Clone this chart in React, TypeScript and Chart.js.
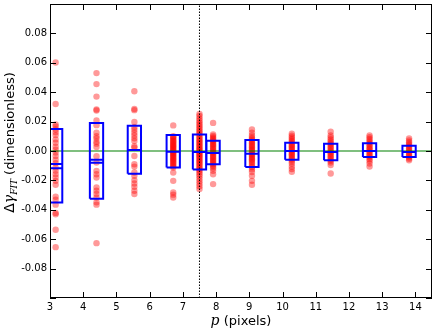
import React, { useEffect, useRef } from 'react';
import { Chart, registerables } from 'chart.js';
Chart.register(...registerables);

// ---- data ----
const groupX = [3.17, 4.4, 5.54, 6.71, 7.5, 7.91, 9.08, 10.28, 11.45, 12.62, 13.81];

const g1 = [0.0602, 0.032, 0.018, 0.0167, 0.0146, 0.0128, 0.0108, 0.0079, 0.0056, 0.0029, 0.0009, -0.0011, -0.0034, -0.0059, -0.0083, -0.0113, -0.0135, -0.0158, -0.018, -0.0203, -0.023, -0.0311, -0.0331, -0.0365, -0.0421, -0.043, -0.0536, -0.0654];
const g2 = [0.053, 0.0455, 0.037, 0.0282, 0.0276, 0.0207, 0.0176, 0.0124, 0.0101, 0.0086, 0.0063, 0.005, 0.0027, -0.0036, -0.0079, -0.0135, -0.0158, -0.018, -0.0248, -0.027, -0.0293, -0.0316, -0.0349, -0.0365, -0.0627];
const g3 = [0.0406, 0.0286, 0.0278, 0.0198, 0.0162, 0.0144, 0.0124, 0.0106, 0.0086, 0.0068, 0.0032, 0.0023, -0.0034, -0.009, -0.0106, -0.0146, -0.0169, -0.0198, -0.0221, -0.0243, -0.027, -0.0293];
const g4 = [0.0174, 0.0101, 0.0095, 0.0088, 0.008, 0.0072, 0.0065, 0.0058, 0.005, 0.0043, 0.0036, 0.003, 0.0022, 0.0015, 0.0008, 0.0002, -0.0005, -0.0012, -0.0019, -0.0026, -0.0033, -0.004, -0.0048, -0.0055, -0.0062, -0.007, -0.0078, -0.0086, -0.0095, -0.0104, -0.0112, -0.0147, -0.0203, -0.0282, -0.0297, -0.0316];
const g5 = [0.0252, 0.0238, 0.0222, 0.0208, 0.0195, 0.0182, 0.017, 0.0158, 0.0146, 0.0135, 0.0124, 0.0113, 0.0102, 0.0092, 0.0082, 0.0072, 0.0063, 0.0054, 0.0045, 0.0036, 0.0027, 0.0018, 0.001, 0.0002, -0.0006, -0.0014, -0.0022, -0.003, -0.0038, -0.0046, -0.0055, -0.0064, -0.0073, -0.0082, -0.0092, -0.0102, -0.0112, -0.0122, -0.0133, -0.0145, -0.0158, -0.0172, -0.0188, -0.0205, -0.0222, -0.024, -0.0259];
const g6 = [0.0191, 0.0113, 0.0103, 0.0093, 0.0084, 0.0075, 0.0066, 0.0057, 0.0048, 0.004, 0.0031, 0.0022, 0.0013, 0.0004, -0.0005, -0.0014, -0.0023, -0.0032, -0.0041, -0.005, -0.0059, -0.0068, -0.0077, -0.0086, -0.0096, -0.0106, -0.0118, -0.0135, -0.0158, -0.0225];
const g7 = [0.0147, 0.0124, 0.0105, 0.0092, 0.0082, 0.0072, 0.0062, 0.0052, 0.0043, 0.0034, 0.0025, 0.0016, 0.0007, -0.0002, -0.0011, -0.002, -0.0029, -0.0038, -0.0047, -0.0056, -0.0065, -0.0075, -0.0086, -0.0098, -0.011, -0.0125, -0.0143, -0.0169, -0.0203, -0.023];
const g8 = [0.0117, 0.0104, 0.0092, 0.0081, 0.007, 0.006, 0.005, 0.0041, 0.0032, 0.0023, 0.0014, 0.0005, -0.0004, -0.0013, -0.0022, -0.0031, -0.004, -0.005, -0.006, -0.0072, -0.0085, -0.0105, -0.0123, -0.0142];
const g9 = [0.0131, 0.0106, 0.0092, 0.0078, 0.0066, 0.0055, 0.0044, 0.0034, 0.0024, 0.0014, 0.0004, -0.0006, -0.0016, -0.0026, -0.0036, -0.0046, -0.0056, -0.0067, -0.0079, -0.0095, -0.0153];
const g10 = [0.0106, 0.0094, 0.0082, 0.007, 0.0059, 0.0048, 0.0038, 0.0028, 0.0018, 0.0008, -0.0002, -0.0012, -0.0022, -0.0032, -0.0043, -0.0055, -0.0068, -0.0085, -0.0106];
const g11 = [0.0086, 0.0072, 0.006, 0.0048, 0.0037, 0.0027, 0.0017, 0.0007, -0.0003, -0.0013, -0.0023, -0.0033, -0.0043, -0.0053, -0.0063];
const groupValues = [g1, g2, g3, g4, g5, g6, g7, g8, g9, g10, g11];

const boxUpper = [0.0149, 0.0191, 0.0171, 0.0108, 0.0113, 0.007, 0.0074, 0.0056, 0.0049, 0.0052, 0.0036];
const boxLower = [-0.035, -0.0325, -0.0155, -0.0113, -0.0126, -0.009, -0.0108, -0.0059, -0.0063, -0.004, -0.004];
const boxMedian = [-0.0117, -0.008, 0.0007, -0.0005, -0.0007, -0.0014, -0.0018, 0.0, -0.0007, 0.0, -0.0007];
const boxMean = [-0.0088, -0.006, 0.0007, -0.0005, -0.0007, -0.0014, -0.0018, 0.0, -0.0007, 0.0, -0.0007];

const xTickValues = [3, 4, 5, 6, 7, 8, 9, 10, 11, 12, 13, 14];
const yTickValues = [-0.08, -0.06, -0.04, -0.02, 0, 0.02, 0.04, 0.06, 0.08];
const xRange = [3, 14.5];
const yRange = [-0.1, 0.1];
const zeroLevel = 0;
const thresholdX = 7.5;

const BOX_HALF = 0.2;

const framePlugin = {
  id: 'frame',
  afterDraw(chart: any) {
    const { ctx, chartArea: a, scales } = chart;
    const xs = scales.x, ys = scales.y;
    ctx.save();
    ctx.strokeStyle = '#000';
    ctx.lineWidth = 1;
    ctx.strokeRect(Math.round(a.left) + 0.5, Math.round(a.top) + 0.5, Math.round(a.right - a.left) - 1, Math.round(a.bottom - a.top) - 1);
    const L = 6;
    ctx.beginPath();
    for (const v of xTickValues) {
      const px = Math.round(xs.getPixelForValue(v)) + 0.5;
      ctx.moveTo(px, a.bottom); ctx.lineTo(px, a.bottom - L);
      ctx.moveTo(px, a.top); ctx.lineTo(px, a.top + L);
    }
    for (const v of [-0.1, ...yTickValues, 0.1]) {
      const py = Math.round(ys.getPixelForValue(v)) + 0.5;
      ctx.moveTo(a.left, py); ctx.lineTo(a.left + L, py);
      ctx.moveTo(a.right, py); ctx.lineTo(a.right - L, py);
    }
    ctx.stroke();

    // x title: italic math p + (pixels)
    const cx = (a.left + a.right) / 2;
    const by = 325;
    ctx.fillStyle = '#000';
    ctx.textBaseline = 'alphabetic';
    ctx.font = 'italic 14px "DejaVu Serif"';
    const pW = ctx.measureText('p').width;
    ctx.font = '13px "DejaVu Sans"';
    const rest = ' (pixels)';
    const rW = ctx.measureText(rest).width;
    let sx = cx - (pW + rW) / 2;
    ctx.font = 'italic 14px "DejaVu Serif"';
    ctx.textAlign = 'left';
    ctx.fillText('p', sx, by);
    ctx.font = '13px "DejaVu Sans"';
    ctx.fillText(rest, sx + pW, by);

    // y title
    ctx.save();
    ctx.translate(14, 142.5);
    ctx.rotate(-Math.PI / 2);
    const parts = [
      { t: '\u0394', f: '14px "DejaVu Sans"', dy: 0 },
      { t: '\u03b3', f: 'italic 14px "DejaVu Serif"', dy: 0 },
      { t: 'FIT', f: 'italic 9px "DejaVu Serif"', dy: 3 },
      { t: ' (dimensionless)', f: '13px "DejaVu Sans"', dy: 0 },
    ];
    let total = 0;
    const widths: number[] = [];
    for (const p of parts) { ctx.font = p.f; const w = ctx.measureText(p.t).width; widths.push(w); total += w; }
    let tx = -total / 2;
    parts.forEach((p, i) => { ctx.font = p.f; ctx.fillText(p.t, tx, p.dy); tx += widths[i]; });
    ctx.restore();
    ctx.restore();
  },
};

const zeroPad = (s: any) => { s.paddingTop = 0; s.paddingBottom = 0; s.paddingLeft = 0; s.paddingRight = 0; };

export default function App() {
  const ref = useRef<HTMLCanvasElement>(null);
  useEffect(() => {
    const pts: any[] = [];
    groupX.forEach((gx, i) => groupValues[i].forEach((v) => pts.push({ x: gx, y: v })));
    const boxes: any[] = [];
    const medians: any[] = [];
    groupX.forEach((gx, i) => {
      const l = gx - BOX_HALF, r = gx + BOX_HALF;
      boxes.push({ x: l, y: boxLower[i] }, { x: r, y: boxLower[i] }, { x: r, y: boxUpper[i] }, { x: l, y: boxUpper[i] }, { x: l, y: boxLower[i] }, { x: gx, y: null });
      medians.push({ x: l, y: boxMedian[i] }, { x: r, y: boxMedian[i] }, { x: gx, y: null });
      medians.push({ x: l, y: boxMean[i] }, { x: r, y: boxMean[i] }, { x: gx, y: null });
    });
    const chart = new Chart(ref.current!, {
      type: 'scatter',
      data: {
        datasets: [
          { type: 'line', data: boxes, borderColor: '#0000ff', borderWidth: 2, pointRadius: 0, spanGaps: false, fill: false, borderJoinStyle: 'miter', order: 0 } as any,
          { type: 'line', data: medians, borderColor: '#0000ff', borderWidth: 2, pointRadius: 0, spanGaps: false, fill: false, order: 0 } as any,
          { type: 'line', data: [{ x: thresholdX, y: yRange[0] }, { x: thresholdX, y: yRange[1] }], borderColor: '#000', borderWidth: 1, borderDash: [1.5, 1.5], pointRadius: 0, order: 1 } as any,
          { type: 'line', data: [{ x: xRange[0], y: zeroLevel }, { x: xRange[1], y: zeroLevel }], borderColor: '#008000', borderWidth: 1.2, pointRadius: 0, order: 1 } as any,
          { data: pts, backgroundColor: 'rgba(255,0,0,0.4)', borderWidth: 0, pointRadius: 3.2, order: 2 } as any,
        ],
      },
      options: {
        responsive: false,
        animation: false,
        devicePixelRatio: 1,
        layout: { padding: { left: 0, right: 2, top: 2, bottom: 0 } },
        plugins: { legend: { display: false }, tooltip: { enabled: false } },
        scales: {
          x: {
            type: 'linear', min: xRange[0], max: xRange[1],
            grid: { display: false, drawTicks: false },
            border: { display: false },
            afterBuildTicks: (s: any) => { s.ticks = xTickValues.map((v) => ({ value: v })); },
            afterFit: (s: any) => { s.height = 32; zeroPad(s); },
            ticks: { color: '#000', font: { family: 'DejaVu Sans', size: 10 }, padding: 3, maxRotation: 0, autoSkip: false, callback: (v: any) => String(v) },
          },
          y: {
            type: 'linear', min: yRange[0], max: yRange[1],
            grid: { display: false, drawTicks: false },
            border: { display: false },
            afterBuildTicks: (s: any) => { s.ticks = yTickValues.map((v) => ({ value: v })); },
            afterFit: (s: any) => { s.width = 50; zeroPad(s); },
            ticks: { color: '#000', font: { family: 'DejaVu Sans', size: 10 }, padding: 3, autoSkip: false, callback: (v: any) => Number(v).toFixed(2) },
          },
        },
      },
      plugins: [framePlugin],
    });
    return () => chart.destroy();
  }, []);
  return (
    <div style={{ position: 'fixed', left: 0, top: 0, width: 436, height: 330, background: '#fff' }}>
      <canvas ref={ref} width={436} height={330} />
    </div>
  );
}
